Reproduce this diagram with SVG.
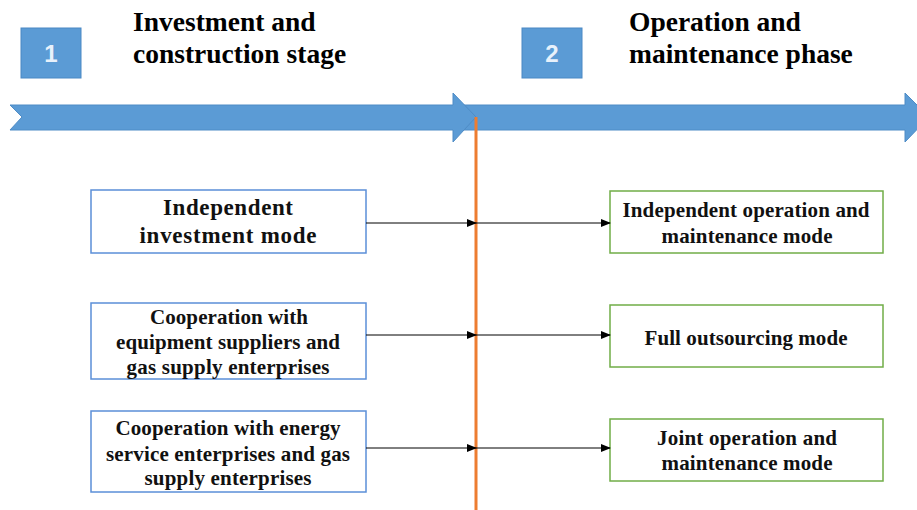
<svg xmlns="http://www.w3.org/2000/svg" width="917" height="510" viewBox="0 0 917 510">
<style>
.title{font-family:"Liberation Serif","Times New Roman",serif;font-weight:bold;font-size:27.5px;fill:#000}
.num{font-family:"Liberation Sans",Arial,sans-serif;font-weight:bold;font-size:24px;fill:#e8f1fb;text-anchor:middle}
.numbox{fill:#5b9bd5;stroke:#4a88c4;stroke-width:1}
.arrow{fill:#5b9bd5;stroke:#4f8cc6;stroke-width:1}
.lbox{fill:#fff;stroke:#5b8fd8;stroke-width:1.5}
.rbox{fill:#fff;stroke:#70ad47;stroke-width:1.5}
.lbl{font-family:"Liberation Serif","Times New Roman",serif;font-weight:bold;font-size:21px;fill:#111;text-anchor:middle}
.big{font-size:23px}
.conn{stroke:#000;stroke-width:1;fill:none;marker-end:url(#ah)}
</style>
<defs>
<marker id="ah" markerWidth="10" markerHeight="8" refX="9" refY="4" orient="auto" markerUnits="userSpaceOnUse">
<path d="M0,0 L10,4 L0,8 Z" fill="#000"/>
</marker>
</defs>
<rect width="917" height="510" fill="#fff"/>
<g id="timeline">
<polygon class="arrow" points="460,105 905,105 905,93 929,117 905,142 905,130 460,130"/>
<polygon class="arrow" points="10,105 453,105 453,93 476,117 453,142 453,130 10,130 22,117"/>
<line x1="476" y1="117" x2="476" y2="510" stroke="#ed7d31" stroke-width="3"/>
</g>
<g id="stage1">
<rect class="numbox" x="21" y="28" width="60" height="50"/>
<text class="num" x="51" y="62">1</text>
<text class="title" x="133" y="31">Investment and</text>
<text class="title" x="133" y="63">construction stage</text>
</g>
<g id="stage2">
<rect class="numbox" x="522" y="28" width="60" height="50"/>
<text class="num" x="552" y="62">2</text>
<text class="title" x="629" y="31">Operation and</text>
<text class="title" x="629" y="63">maintenance phase</text>
</g>
<g id="invest-independent">
<rect class="lbox" x="91" y="190" width="275" height="63"/>
<text class="lbl big" x="228" y="215" textLength="130">Independent</text>
<text class="lbl big" x="228" y="243" textLength="177">investment mode</text>
</g>
<g id="invest-equipment">
<rect class="lbox" x="91" y="303" width="275" height="76"/>
<text class="lbl" x="229" y="324" textLength="158">Cooperation with</text>
<text class="lbl" x="228" y="349" textLength="224">equipment suppliers and</text>
<text class="lbl" x="228" y="374" textLength="203">gas supply enterprises</text>
</g>
<g id="invest-energy">
<rect class="lbox" x="91" y="411" width="275" height="81"/>
<text class="lbl" x="228" y="435" textLength="225">Cooperation with energy</text>
<text class="lbl" x="228" y="461" textLength="244">service enterprises and gas</text>
<text class="lbl" x="228" y="485" textLength="167">supply enterprises</text>
</g>
<g id="om-independent">
<rect class="rbox" x="610" y="191" width="273" height="62"/>
<text class="lbl" x="746" y="217" textLength="247">Independent operation and</text>
<text class="lbl" x="747" y="243" textLength="171">maintenance mode</text>
</g>
<g id="om-outsourcing">
<rect class="rbox" x="610" y="305" width="273" height="62"/>
<text class="lbl" x="746" y="345" textLength="203">Full outsourcing mode</text>
</g>
<g id="om-joint">
<rect class="rbox" x="610" y="419" width="273" height="62"/>
<text class="lbl" x="747" y="445" textLength="180">Joint operation and</text>
<text class="lbl" x="747" y="470" textLength="171">maintenance mode</text>
</g>
<g id="connectors">
<line class="conn" x1="366" y1="223" x2="476" y2="223"/>
<line class="conn" x1="476" y1="223" x2="610" y2="223"/>
<line class="conn" x1="366" y1="335" x2="476" y2="335"/>
<line class="conn" x1="476" y1="335" x2="610" y2="335"/>
<line class="conn" x1="366" y1="448" x2="476" y2="448"/>
<line class="conn" x1="476" y1="448" x2="610" y2="448"/>
</g>
</svg>
